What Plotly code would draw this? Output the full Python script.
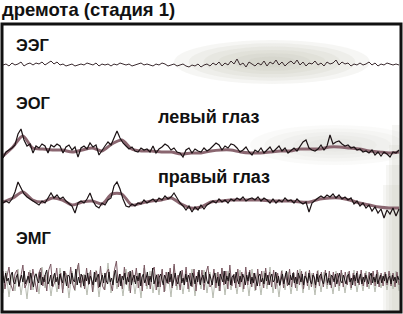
import numpy as np
import plotly.graph_objects as go

# ---- data (amplitudes, positive = up) ----
eeg = [0, 1, -1, 2, 0, 1, 3, -1, 1, 2,
       0, 2, 1, 3, 0, 2, 4, 1, 3, 0,
       1, -1, 0, 1, -1, 0, 1, 0, 2, 1,
       0, 2, -1, 1, 0, 1, -1, 1, 0, 2,
       1, 0, 1, -1, 0, 1, 2, 0, 1, 0,
       -1, 1, 0, 2, 1, -1, 0, 1, -1, 0,
       1, -1, -2, 0, -1, 1, -2, 0, 1, -1,
       2, 0, 3, -1, 2, 0, 4, 1, 6, 0,
       2, -2, 3, 1, -1, 2, 0, 4, -1, 3,
       1, 5, 0, 3, -1, 2, 4, 1, 5, 0,
       3, -1, 2, 1, 4, 0, 2, -1, 3, 1,
       2, 5, 0, 3, 1, 2, -1, 1, 0, 2,
       0, 1, 3, 0, 2, -1, 1, 0, 2, 1,
       0, 1, 0]

eog_left = [-8, -2, 0, 2, 5, 16, 21, 10, 4, 6,
            -3, 4, 2, 6, 4, -3, 5, 3, 6, 4,
            -3, 3, 5, 0, 3, -7, 2, 4, 1, 7,
            3, 5, -5, 0, 4, 8, 5, 12, 19, 12,
            7, 4, 1, 3, -1, -2, 2, 0, 1, -2,
            4, -3, 1, 3, 6, 4, 0, 2, -2, -3,
            -7, 0, 2, -3, 1, -1, -2, 2, -1, 1,
            4, 7, 5, 0, 4, 2, 6, 5, 2, -2,
            0, 3, -2, -5, 0, -2, 2, -3, 0, 3,
            -2, 1, 4, -1, 2, -3, 0, 2, -1, 3,
            8, 10, 2, 0, -1, 1, 5, 0, 4, 15,
            6, 8, 9, 6, 4, 5, 2, 3, 0, 1,
            -2, -1, -3, 0, -5, -2, -6, -2, -4, -7,
            -2, -3, 0]

eog_left_slow = [-6, 3, 14, 2, 1, 0, 0, -2, 0, 2,
                 -1, 6, 10, 1, -1, -1, -2, -2, -4, -3,
                 -3, -1, 0, 0, -2, -3, -3, -2, -1, -1,
                 1, 1, 1, 3, 3, 2, 1, -1, -2, -3,
                 -2]

eog_right = [-1, 1, -1, 3, 10, 20, 14, 8, 5, 3,
             1, -1, -3, 1, -1, 4, 9, 4, 7, 3,
             5, 1, -2, -4, -11, -1, 1, -1, 3, 9,
             1, -4, -6, -1, -3, 2, 4, 16, 20, 13,
             3, -4, -5, -2, -4, -1, -2, 2, -1, 1,
             3, 0, 4, 2, 6, 3, 5, 9, 4, -1,
             -4, -8, -4, -10, -5, -8, -3, -7, -3, -1,
             1, -1, 3, 0, 2, -1, 3, 1, 4, 2,
             5, 1, 3, 4, 2, 5, 1, 4, 2, -1,
             3, -1, 2, 0, 4, 1, 2, -1, 3, 0,
             -2, 0, -10, -1, 2, 4, 6, 4, 7, 5,
             8, 4, 7, 3, 5, 2, 4, -2, 1, -4,
             -1, -6, -3, -9, -5, -11, -7, -16, -8, -12,
             -6, -14, -7]

eog_right_slow = [0, 4, 10, 2, 0, 4, 2, -3, 0, 1,
                  -2, 8, 8, -3, -1, 1, 2, 4, -2, -6,
                  -5, 0, 1, 2, 2, 2, 2, 1, 1, 1,
                  0, 0, 3, 4, 4, 2, -1, -3, -5, -6,
                  -6]

emg_core = [3, -4, 6, -2, 1, -6, 4, 7, -3, -5, 2, 5, -7, 0, 4, -3, 8, -5, -1, 3,
            -4, 6, -2, -8, 3, 5, -1, -4, 7, -6, 2, -3, 5, 9, -5, -2, 4, -7, 1, 6,
            -3, 2, -6, 5, 0, -4, 8, -2, -7, 4, 3, -5, 6, -1, -3, 10, -6, 2, -4, 5,
            1, -7, 4, -2, 6, -5, 3, -1, -6, 7, -3, 2, 5, -8, 0, 4, -4, 6, -2, -5,
            7, -3, 1, -6, 4, 9, -4, -2, 5, -7, 3, -1, 6, -5, 2, -3, 8, -6, 1, 4,
            -5, 3, -2, 6, -7, 2, 5, -4, 0, 7, -6, 3, -3, 11, -5, -1, 4, -8, 2, 5,
            -2, -6, 4, 1, -4, 7, -3, 5, -7, 2, 6, -2, -5, 3, 8, -4, 1, -6, 5, -3,
            4, -1, -7, 6, 2, -5, 3, -3, 9, -6, 1, 4, -4, 7, -2, -5, 5, 0, -6, 3,
            6, -4, 2, -7, 5, 1, -3, 8, -5, 3, -2, 6, -6, 2, 4, -4, 7, -1, -5, 3,
            -3, 5, 1, -6, 4, -2, 7, -5, 2, -4, 6, -1, -7, 3, 5, -3, 1, -5, 6, -2,
            4, -6, 2, 5, -3, -1, 7, -4, 3, -6, 1, 5, -5, 2, 8, -3, -6, 4, -1, 6,
            -4, 2, -5, 6, 0, -3, 5, -6, 3, 1, -4, 6, -2, -5, 4, 2, -6, 5, -3, 3,
            5, -2, -5, 3, 6, -4, 1, -6, 4, 2, -3, 5, -5, 1, 6, -2, -4, 4, -1, -5,
            3, 5, -3, 1, -6, 4, -2, 6, -4, 0, 5, -5, 2, -3, 4, -1, -5, 3, 6, -4,
            2, -3, 5, -5, 1, 4, -4, 3, -2, 5, -4, 1, 3, -5, 4, -2, 2, -4, 3, -1]

emg_mid = [8, -10, 3, 12, -6, -12, 5, 9, -8, 2, 14, -9, -4, 7, -11, 10, -3, -13, 6, 11,
           -7, 4, -12, 9, 15, -8, -3, 11, -10, 6, -14, 8, 2, -9, 12, -5, -11, 7, 16, -8,
           4, -10, 11, -6, 9, -13, 3, 8, -9, 13, -7, -11, 6, 10, -4, -12, 9, 18, -8, 5,
           -10, 12, -6, 7, -14, 9, -3, 11, -9, 6, -12, 14, -7, 3, -10, 8, 12, -11, 5, -8,
           10, -13, 7, -5, 11, -9, 15, -7, 4, -11, 9, -6, 12, -10, 6, -8, 10, -12, 7, -5,
           9, -11, 6, 13, -8, -5, 10, -9, 7, -12, 11, -6, 8, -10, 14, -7, 5, -9, 10, -8,
           7, -10, 12, -6, 9, -8, 6, -11, 10, -7, 8, -9, 11, -6, 7, -8, 9, -10, 6, -7,
           8, -9, 6, -7, 10, -8, 7, -9, 9, -6, 8, -10, 7, -7, 9, -8, 6, -9, 8, -7,
           7, -8, 9, -6, 8, -9, 7, -8, 6, -7, 9, -8, 7, -6, 8, -9, 6, -7, 8, -6,
           9, -7, 6, -8, 7, -6, 8, -7, 9, -8, 6, -7, 7, -6, 8, -7, 6, -8, 7, -6]

emg_light = [-14, 8, -18, 5, -12, 10, -16, 4, -20, 9, -11, 6, -15, 12, -9, 7, -17, 5, -13, 11,
             -10, 6, -19, 8, -12, 14, -9, 5, -16, 7, -13, 9, -18, 6, -11, 16, -14, 8, -10, 5,
             -17, 10, -12, 7, -15, 6, -19, 11, -10, 8, -14, 5, -16, 9, -12, 7, -18, 13, -11, 6,
             -15, 8, -13, 10, -17, 5, -10, 9, -14, 7, -19, 6, -12, 11, -16, 8, -11, 5, -15, 9,
             -13, 7, -17, 10, -12, 6, -16, 8, -10, 12, -14, 5, -18, 9, -11, 7, -15, 6, -12, 10,
             -14, 8, -11, 6, -16, 9, -13, 7, -10, 5, -15, 8, -12, 6, -14, 7, -11, 9, -13, 5,
             -12, 8, -10, 6, -13, 7, -9, 5, -11, 6, -10, 8, -12]

title_text = "дремота (стадия 1)"
labels = ["ЭЭГ", "ЭОГ", "левый глаз", "правый глаз", "ЭМГ"]

# ---- layout geometry (pixels) ----
W, H = 403, 314
ML, MR, MT, MB = 2, 2, 24, 2
PW, PH = W - ML - MR, H - MT - MB
T_END = 30.0
PX_PER_S = 396 / T_END


def px(x):
    return (x - ML) / PW


def py(y):
    return (H - MB - y) / PH


BASE_EEG = 247
BASE_L = 162
BASE_R = 110
BASE_EMG = 33

DARK = "#1b1214"
MAUVE = "#8a6670"
LIGHT = "#b9bdb2"

fig = go.Figure()


def add(vals, base, color, width, shape="linear"):
    t = np.linspace(0, T_END, len(vals))
    line = dict(color=color, width=width, shape=shape)
    if shape == "spline":
        line["smoothing"] = 0.8
    fig.add_trace(go.Scatter(x=t, y=base + np.array(vals), mode="lines", line=line,
                             hoverinfo="skip", showlegend=False))


# EMG
add(emg_light, BASE_EMG, LIGHT, 1)
add(emg_mid, BASE_EMG, "#7a5862", 1)
add(emg_core, BASE_EMG, DARK, 1)
# EOG
add(eog_left_slow, BASE_L, MAUVE, 3, "spline")
add(eog_left, BASE_L, DARK, 1.2)
add(eog_right_slow, BASE_R, MAUVE, 3, "spline")
add(eog_right, BASE_R, DARK, 1.2)
# EEG
add(eeg, BASE_EEG, "#3a2a2e", 1)

shapes = []
for k in range(6):
    f = 1 - k * 0.15
    cx, cy, rx, ry = 272, 62, 98 * f, 22 * f
    shapes.append(dict(type="circle", xref="paper", yref="paper", layer="below",
                       x0=px(cx - rx), x1=px(cx + rx), y0=py(cy + ry), y1=py(cy - ry),
                       fillcolor="#b6bcaa", opacity=0.13, line=dict(width=0)))
for k in range(5):
    f = 1 - k * 0.17
    cx, cy, rx, ry = 335, 145, 85 * f, 20 * f
    shapes.append(dict(type="circle", xref="paper", yref="paper", layer="below",
                       x0=px(cx - rx), x1=px(cx + rx), y0=py(cy + ry), y1=py(cy - ry),
                       fillcolor="#c4c8bc", opacity=0.09, line=dict(width=0)))
for k in range(4):
    shapes.append(dict(type="rect", xref="paper", yref="paper", layer="below",
                       x0=px(392 - k * 3), x1=px(401), y0=py(312), y1=py(125 + k * 20),
                       fillcolor="#c4c8bc", opacity=0.16, line=dict(width=0)))
shapes.append(dict(type="rect", xref="paper", yref="paper", x0=0, x1=1, y0=0, y1=1,
                   line=dict(color="#111111", width=3)))

F = "Liberation Sans, Arial, sans-serif"
ann = [
    dict(text=title_text, x=px(0), y=py(9), xanchor="left", size=18.5),
    dict(text=labels[0], x=px(14), y=py(45), xanchor="left", size=16.5),
    dict(text=labels[1], x=px(14), y=py(103), xanchor="left", size=16.5),
    dict(text=labels[2], x=px(208), y=py(117), xanchor="center", size=18),
    dict(text=labels[3], x=px(214), y=py(177), xanchor="center", size=18),
    dict(text=labels[4], x=px(14), y=py(238), xanchor="left", size=16.5),
]
annotations = [dict(text="<b>" + a["text"] + "</b>", x=a["x"], y=a["y"], xref="paper", yref="paper",
                    xanchor=a["xanchor"], yanchor="middle", showarrow=False,
                    font=dict(family=F, size=a["size"], color="#111111"))
               for a in ann]

fig.update_layout(
    width=W, height=H, margin=dict(l=ML, r=MR, t=MT, b=MB),
    paper_bgcolor="white", plot_bgcolor="white",
    xaxis=dict(range=[-1 / PX_PER_S, -1 / PX_PER_S + PW / PX_PER_S], visible=False, fixedrange=True),
    yaxis=dict(range=[0, PH], visible=False, fixedrange=True),
    shapes=shapes, annotations=annotations, showlegend=False,
)

fig.write_html("out.html", config={"displayModeBar": False})
